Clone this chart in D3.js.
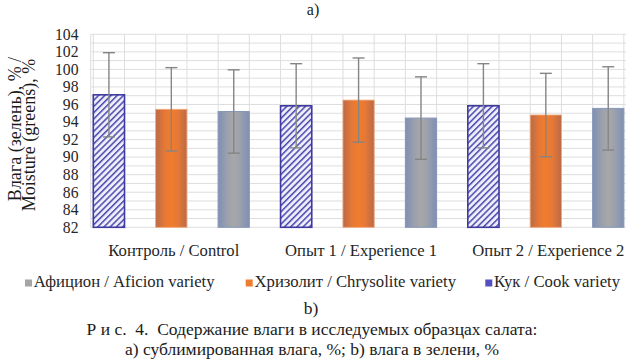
<!DOCTYPE html>
<html><head><meta charset="utf-8">
<script src="https://cdn.jsdelivr.net/npm/d3@7"></script>
<style>
html,body{margin:0;padding:0;background:#fff;}
svg{display:block;}
</style></head>
<body>
<svg id="chart" width="626" height="360"></svg>
<script>
// ---- data ----
const groups = ["Контроль / Control", "Опыт 1 / Experience 1", "Опыт 2 / Experience 2"];
const seriesOrder = ["cook", "chrysolite", "aficion"];   // bar order inside a group
const legendOrder = ["aficion", "chrysolite", "cook"];
const seriesNames = {
  aficion: "Афицион / Aficion variety",
  chrysolite: "Хризолит / Chrysolite variety",
  cook: "Кук / Cook variety"
};
const cookValues = [97.1, 95.85, 95.85];
const cookErrors = [4.8, 4.8, 4.8];
const chrysoliteValues = [95.45, 96.5, 94.8];
const chrysoliteErrors = [4.75, 4.8, 4.75];
const aficionValues = [95.2, 94.45, 95.55];
const aficionErrors = [4.75, 4.7, 4.75];
const yTicks = [82, 84, 86, 88, 90, 92, 94, 96, 98, 100, 102, 104];
const yTitle = ["Влага (зелень), % /", "Moisture (greens), %"];
const topLabel = "a)";
const bottomLabel = "b)";
const caption = ["Р и с.  4.  Содержание влаги в исследуемых образцах салата:",
                 "а) сублимированная влага, %; b) влага в зелени, %"];

const valuesBy = {cook: cookValues, chrysolite: chrysoliteValues, aficion: aficionValues};
const errorsBy = {cook: cookErrors, chrysolite: chrysoliteErrors, aficion: aficionErrors};

// ---- layout ----
const FONT = "Liberation Serif";
const svg = d3.select("#chart");
const plotLeft = 90.7, plotRight = 640, plotTop = 34.3, plotBottom = 227.3;

function serif(sel, size) {
  return sel.attr("font-family", FONT).attr("font-size", size).style("white-space", "pre");
}
// font size so that a text matches the width
function fitSize(text, targetWidth, base) {
  const t = svg.append("text").attr("font-family", FONT).attr("font-size", base)
    .style("white-space", "pre").text(text);
  const w = t.node().getComputedTextLength();
  t.remove();
  return w > 0 ? base * targetWidth / w : base;
}

const y = d3.scaleLinear().domain([82, 104]).range([plotBottom, plotTop]);
const x0 = d3.scaleBand().domain(groups).range([77.7, 639.45]).padding(0);
const x1 = d3.scaleBand().domain(seriesOrder).range([0, x0.bandwidth()])
  .paddingInner(0.5).paddingOuter(0.25);

const defs = svg.append("defs");
const pat = defs.append("pattern").attr("id", "hatch")
  .attr("patternUnits", "userSpaceOnUse").attr("width", 4.4).attr("height", 4.4)
  .attr("patternTransform", "rotate(45)");
pat.append("rect").attr("width", 4.4).attr("height", 4.4).attr("fill", "#eeeefb");
pat.append("rect").attr("x", 0).attr("width", 1.5).attr("height", 4.4).attr("fill", "#4b47ad");

function hGrad(id, edge, mid, center) {
  const g = defs.append("linearGradient").attr("id", id)
    .attr("x1", "0%").attr("x2", "100%").attr("y1", "0%").attr("y2", "0%");
  g.append("stop").attr("offset", "0%").attr("stop-color", edge);
  g.append("stop").attr("offset", "30%").attr("stop-color", mid);
  g.append("stop").attr("offset", "50%").attr("stop-color", center);
  g.append("stop").attr("offset", "70%").attr("stop-color", mid);
  g.append("stop").attr("offset", "100%").attr("stop-color", edge);
}
hGrad("gOrange", "#bb6a48", "#e77936", "#f07c2d");
hGrad("gGray", "#7f8fb3", "#9ba1ad", "#a7a7a7");

const fills = {cook: "url(#hatch)", chrysolite: "url(#gOrange)", aficion: "url(#gGray)"};
const strokes = {cook: "#3f3a9f", chrysolite: "#f2a877", aficion: "#8898bb"};
const strokeW = {cook: 1.6, chrysolite: 0.8, aficion: 1};
const legendColors = {aficion: "#a5a5a5", chrysolite: "#ed7d31", cook: "#5450c4"};

// gridlines
const grid = svg.append("g");
grid.selectAll("line.h").data(d3.range(82, 105)).join("line")
  .attr("x1", plotLeft).attr("x2", plotRight)
  .attr("y1", d => y(d)).attr("y2", d => y(d))
  .attr("stroke", "#dedede").attr("stroke-width", 1);

const edges = [];
groups.forEach(g => seriesOrder.forEach(s => {
  edges.push(x0(g) + x1(s));
  edges.push(x0(g) + x1(s) + x1.bandwidth());
}));
edges.push(plotLeft);
grid.selectAll("line.v").data(edges).join("line")
  .attr("x1", d => d).attr("x2", d => d)
  .attr("y1", plotTop).attr("y2", plotBottom)
  .attr("stroke", "#dedede").attr("stroke-width", 1);

// bars
const barData = [];
groups.forEach((g, i) => seriesOrder.forEach(s => {
  barData.push({g, s, v: valuesBy[s][i], e: errorsBy[s][i]});
}));
svg.append("g").selectAll("rect").data(barData).join("rect")
  .attr("x", d => x0(d.g) + x1(d.s))
  .attr("width", x1.bandwidth())
  .attr("y", d => y(d.v))
  .attr("height", d => y(82) - y(d.v))
  .attr("fill", d => fills[d.s])
  .attr("stroke", d => strokes[d.s])
  .attr("stroke-width", d => strokeW[d.s]);

// error bars
const eb = svg.append("g").attr("stroke", "#858585").attr("stroke-width", 1.4);
barData.forEach(d => {
  const cx = x0(d.g) + x1(d.s) + x1.bandwidth() / 2;
  eb.append("line").attr("x1", cx).attr("x2", cx).attr("y1", y(d.v + d.e)).attr("y2", y(d.v - d.e));
  [d.v + d.e, d.v - d.e].forEach(v => {
    eb.append("line").attr("x1", cx - 6).attr("x2", cx + 6).attr("y1", y(v)).attr("y2", y(v));
  });
});

// font sizes fitted to widths
const tickSize = Math.min(16.5, fitSize("104", 23.5, 16));
const catSize = fitSize(groups[0], 131, 16);
const legSize = fitSize(seriesNames.aficion, 181, 16);
const capSize = Math.min(17.5, fitSize(caption[1], 400, 17));
const ytSize = Math.min(18, fitSize(yTitle[1], 156, 17));

// y tick labels
serif(svg.append("g").selectAll("text").data(yTicks).join("text"), tickSize)
  .attr("x", 78.5).attr("y", d => y(d)).attr("dy", "0.34em")
  .attr("text-anchor", "end").attr("fill", "#262626")
  .text(d => d);

// category labels
serif(svg.append("g").selectAll("text").data(groups).join("text"), catSize)
  .attr("x", d => x0(d) + x0.bandwidth() / 2 + 2.5).attr("y", 255.7)
  .attr("text-anchor", "middle").attr("fill", "#262626")
  .text(d => d);

// y title
const yt = [{t: yTitle[0], bx: 20.5, cy: 129}, {t: yTitle[1], bx: 34.8, cy: 135}];
serif(svg.append("g").selectAll("text").data(yt).join("text"), ytSize)
  .attr("transform", d => `translate(${d.bx},${d.cy}) rotate(-90)`)
  .attr("text-anchor", "middle").attr("fill", "#1a1a1a")
  .text(d => d.t);

// legend
const legendX = {aficion: 25, chrysolite: 245.7, cook: 485.3};
const lg = svg.append("g").selectAll("g").data(legendOrder).join("g")
  .attr("transform", d => `translate(${legendX[d]},0)`);
lg.append("rect").attr("x", 0).attr("y", 279.5).attr("width", 7).attr("height", 7)
  .attr("fill", d => legendColors[d]);
serif(lg.append("text"), legSize).attr("x", 8.8).attr("y", 287).attr("fill", "#262626")
  .text(d => seriesNames[d]);

// panel labels & caption
serif(svg.append("text"), 16).attr("x", 313).attr("y", 15).attr("text-anchor", "middle")
  .attr("fill", "#1a1a1a").text(topLabel);
serif(svg.append("text"), capSize).attr("x", 311).attr("y", 314).attr("text-anchor", "middle")
  .attr("fill", "#1a1a1a").text(bottomLabel);
serif(svg.append("g").selectAll("text").data(caption).join("text"), capSize)
  .attr("x", 312).attr("y", (d, i) => 335 + i * 20)
  .attr("text-anchor", "middle").attr("fill", "#1a1a1a")
  .text(d => d);
</script>
</body></html>
